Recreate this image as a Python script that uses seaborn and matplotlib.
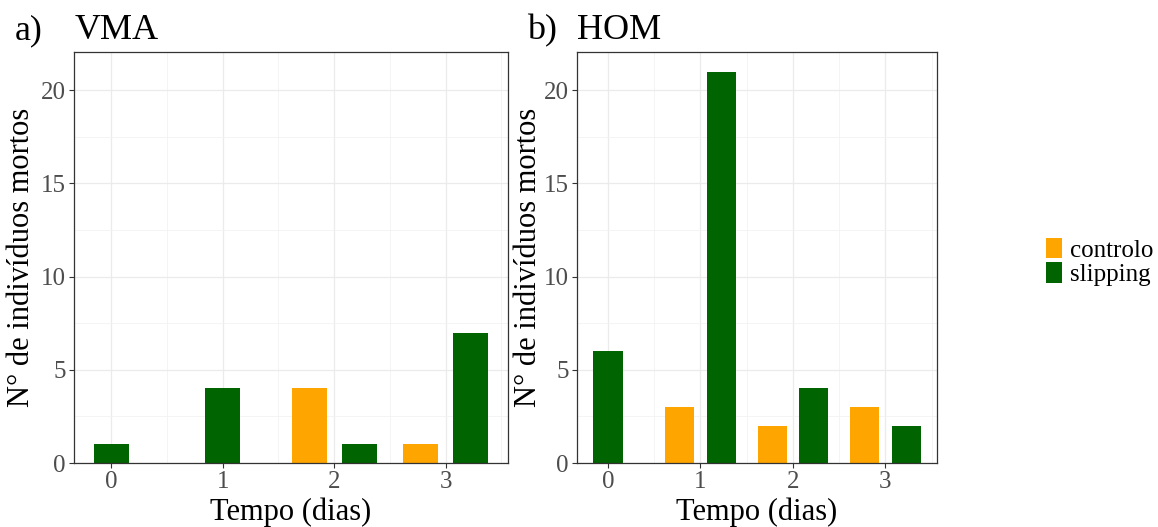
import matplotlib
matplotlib.use('Agg')
import matplotlib.pyplot as plt
from matplotlib.patches import Patch
import seaborn as sns
import pandas as pd

# dados
dias = [0, 1, 2, 3]
grupos = ['controlo', 'slipping']
vma_controlo = [0, 0, 4, 1]
vma_slipping = [1, 4, 1, 7]
hom_controlo = [0, 3, 2, 3]
hom_slipping = [6, 21, 4, 2]

cores = {'controlo': '#FFA500', 'slipping': '#006400'}
desvio = 0.225  # meia largura do dodge (ggplot position_dodge 0.9 / 2)


def monta_df(controlo, slipping):
    linhas = []
    for d, c, s in zip(dias, controlo, slipping):
        ambos = c > 0 and s > 0
        if c > 0:
            linhas.append({'pos': d - desvio if ambos else d, 'grupo': 'controlo', 'mortos': c})
        if s > 0:
            linhas.append({'pos': d + desvio if ambos else d, 'grupo': 'slipping', 'mortos': s})
    return pd.DataFrame(linhas)


sns.set_theme(style='whitegrid')
plt.rcParams['font.family'] = ['Liberation Serif', 'DejaVu Serif']

fig = plt.figure(figsize=(11.58, 5.27), dpi=100)
ax_a = fig.add_axes([0.0639, 0.1214, 0.3748, 0.7799])
ax_b = fig.add_axes([0.4983, 0.1214, 0.3109, 0.7799])

ymax = max(vma_slipping + hom_slipping + vma_controlo + hom_controlo) * 1.05

for ax, controlo, slipping, lp in [(ax_a, vma_controlo, vma_slipping, 3),
                                   (ax_b, hom_controlo, hom_slipping, 0.5)]:
    df = monta_df(controlo, slipping)
    sns.barplot(data=df, x='pos', y='mortos', hue='grupo', hue_order=grupos, palette=cores,
                native_scale=True, dodge=False, width=0.7, errorbar=None, saturation=1,
                linewidth=0, legend=False, ax=ax)
    ax.set_xticks(dias)
    ax.set_xticklabels([str(d) for d in dias])
    ax.set_xticks([d + 0.5 for d in dias], minor=True)
    ax.set_yticks([0, 5, 10, 15, 20])
    ax.set_yticks([2.5, 7.5, 12.5, 17.5], minor=True)
    # limites como no ggplot: 5% de folga em x, nenhuma em baixo em y
    larg = 0.7 * 2 * desvio
    lo = df['pos'].min() - larg / 2
    hi = df['pos'].max() + larg / 2
    pad = 0.05 * (hi - lo)
    ax.set_xlim(lo - pad, hi + pad)
    ax.set_ylim(0, ymax)
    ax.grid(which='major', color='#EBEBEB', linewidth=0.9)
    ax.grid(which='minor', color='#F2F2F2', linewidth=0.6)
    ax.set_axisbelow(True)
    for sp in ax.spines.values():
        sp.set_color('#333333')
        sp.set_linewidth(0.9)
    ax.tick_params(which='major', length=3.5, width=0.8, color='#333333', labelsize=18,
                   labelcolor='#4D4D4D', pad=2.5, bottom=True, left=True)
    ax.tick_params(which='minor', length=0)
    ax.set_xlabel('Tempo (dias)', fontsize=22, labelpad=3, color='black')
    ax.set_ylabel('N° de indivíduos mortos', fontsize=22, labelpad=lp, color='black')

fig.text(0.013, 0.926, 'a)', fontsize=26, ha='left', va='baseline', color='black')
fig.text(0.0645, 0.926, 'VMA', fontsize=26, ha='left', va='baseline', color='black')
fig.text(0.455, 0.926, 'b)', fontsize=26, ha='left', va='baseline', color='black')
fig.text(0.4985, 0.926, 'HOM', fontsize=26, ha='left', va='baseline', color='black')

handles = [Patch(facecolor=cores[g], edgecolor='none') for g in grupos]
fig.legend(handles, grupos, loc='center left', bbox_to_anchor=(0.903, 0.503), frameon=False,
           fontsize=18, handlelength=0.64, handleheight=0.9, labelspacing=0.02,
           handletextpad=0.35, borderpad=0, borderaxespad=0, labelcolor='black')

fig.savefig('out.png', dpi=100)
